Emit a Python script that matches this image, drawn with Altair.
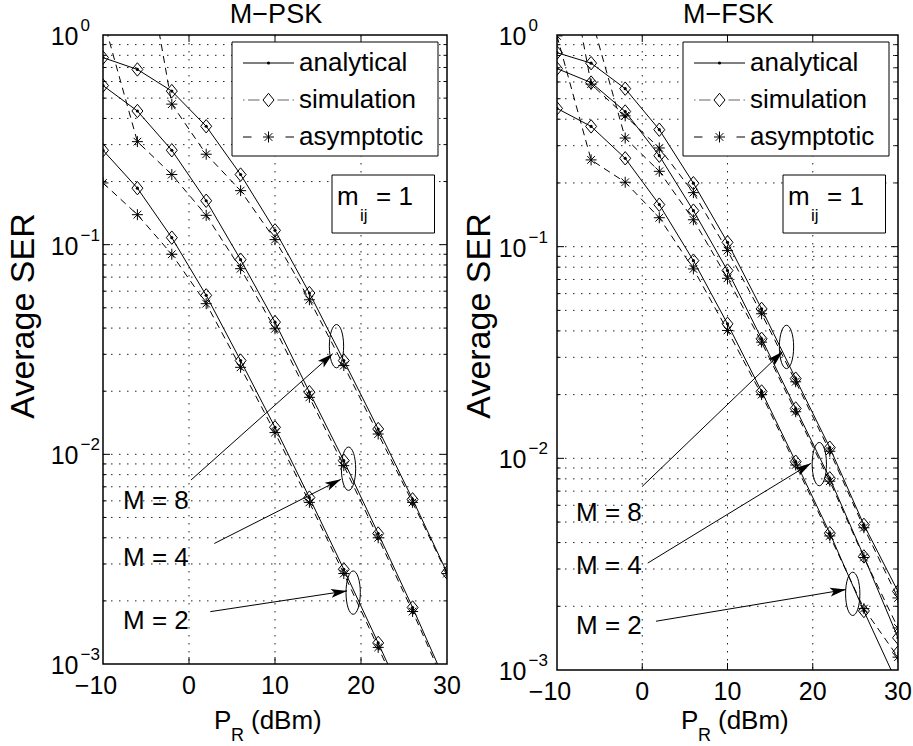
import math
import altair as alt
import pandas as pd

FONT = "Liberation Sans"

# ---------------- data ----------------
SNR_DB = [-10, -6, -2, 2, 6, 10, 14, 18, 22, 26, 30]
ORDERS = [8, 4, 2]

# M-PSK, average SER
PSK_ANA_M8 = [0.78, 0.685, 0.54, 0.367, 0.216, 0.117, 0.0588, 0.028, 0.0132, 0.0061, 0.00273]
PSK_ANA_M4 = [0.574, 0.434, 0.282, 0.162, 0.0848, 0.0427, 0.0198, 0.00933, 0.00419, 0.00186, 0.00079]
PSK_ANA_M2 = [0.282, 0.186, 0.108, 0.0573, 0.028, 0.01345, 0.00622, 0.00283, 0.00126, 0.00055, 0.00024]
PSK_SIM_M8 = [0.78, 0.685, 0.54, 0.367, 0.216, 0.117, 0.0588, 0.028, 0.0132, 0.0061, 0.00273]
PSK_SIM_M4 = [0.574, 0.434, 0.282, 0.162, 0.0848, 0.0427, 0.0198, 0.00933, 0.00419, 0.00186, 0.00079]
PSK_SIM_M2 = [0.282, 0.186, 0.108, 0.0573, 0.028, 0.01345, 0.00622, 0.00283, 0.00126, 0.00055, 0.00024]
PSK_ASY_M8 = [20.0, 4.0, 0.468, 0.27, 0.181, 0.1057, 0.0546, 0.0265, 0.0125, 0.0059, 0.0027]
PSK_ASY_M4 = [1.2, 0.31, 0.216, 0.138, 0.0768, 0.0397, 0.0187, 0.00883, 0.0040, 0.00178, 0.00076]
PSK_ASY_M2 = [0.197, 0.139, 0.090, 0.0523, 0.026, 0.0127, 0.0059, 0.0027, 0.0012, 0.00053, 0.00023]

# M-FSK, average SER
FSK_ANA_M8 = [0.825, 0.736, 0.558, 0.357, 0.1995, 0.1048, 0.0508, 0.0238, 0.01123, 0.00485, 0.00235]
FSK_ANA_M4 = [0.694, 0.596, 0.435, 0.269, 0.148, 0.0771, 0.0367, 0.0172, 0.00805, 0.00344, 0.00142]
FSK_ANA_M2 = [0.450, 0.370, 0.2615, 0.158, 0.0859, 0.0432, 0.0207, 0.00964, 0.00443, 0.0019, 0.00085]
FSK_SIM_M8 = [0.825, 0.736, 0.558, 0.357, 0.1995, 0.1048, 0.0508, 0.0238, 0.01123, 0.00485, 0.00235]
FSK_SIM_M4 = [0.694, 0.596, 0.435, 0.269, 0.148, 0.0771, 0.0367, 0.0172, 0.00805, 0.00344, 0.00142]
FSK_SIM_M2 = [0.450, 0.370, 0.2615, 0.158, 0.0859, 0.0432, 0.0207, 0.00964, 0.00443, 0.0019, 0.00121]
FSK_ASY_M8 = [4.3, 0.586, 0.415, 0.2926, 0.180, 0.0958, 0.0482, 0.0230, 0.0108, 0.0047, 0.00219]
FSK_ASY_M4 = [8.0, 1.22, 0.326, 0.227, 0.134, 0.0709, 0.0354, 0.0166, 0.0078, 0.0034, 0.00158]
FSK_ASY_M2 = [0.99, 0.257, 0.2015, 0.137, 0.0785, 0.0402, 0.0200, 0.0093, 0.0043, 0.00195, 0.00115]

# annotations: ellipse centres, arrow ends and label anchors (data coordinates)
LABELS = ["M = 8", "M = 4", "M = 2"]
PSK_ELL_X = [17.15, 18.55, 19.09]
PSK_ELL_Y = [0.0328, 0.00854, 0.00219]
PSK_ARR_X0 = [0.23, 2.94, 2.48]
PSK_ARR_Y0 = [0.00754, 0.003756, 0.001777]
PSK_ARR_X1 = [16.71, 17.67, 18.37]
PSK_ARR_Y1 = [0.0302, 0.0076, 0.002232]
PSK_LAB_X = [-7.67, -7.67, -7.67]
PSK_LAB_Y = [0.00596, 0.00321, 0.001605]

FSK_ELL_X = [16.92, 20.77, 24.69]
FSK_ELL_Y = [0.0336, 0.00939, 0.00229]
FSK_ARR_X0 = [-0.03, 0.64, 1.61]
FSK_ARR_Y0 = [0.00735, 0.0032, 0.0017]
FSK_ARR_X1 = [16.48, 19.79, 23.9]
FSK_ARR_Y1 = [0.0320, 0.00947, 0.0024]
FSK_LAB_X = [-7.77, -7.77, -7.77]
FSK_LAB_Y = [0.00551, 0.00309, 0.00161]

X_TICKS = [-10, 0, 10, 20, 30]
Y_TICKS = [1.0, 0.1, 0.01, 0.001]
Y_EXPS = ["0", "\u22121", "\u22122", "\u22123"]

X_DOMAIN = [-10, 30]
Y_DOMAIN = [1e-3, 1.0]

# ---------------- marker shapes ----------------
DIAMOND = "M0,-1L0.82,0L0,1L-0.82,0Z"
STAR = "M0,-1L0,1M-1,0L1,0M-0.7,-0.7L0.7,0.7M-0.7,0.7L0.7,-0.7"
ELLIPSE = "M0,-1A0.33,1,0,1,1,0,1A0.33,1,0,1,1,0,-1Z"
ARROWHEAD = "M0,0L-2,-0.55L-1.55,0L-2,0.55Z"

ONE = pd.DataFrame({"k": [0]})


def minus(s):
    return s.replace("-", "\u2212")


def curve_frame(series):
    rows = []
    for m, vals in zip(ORDERS, series):
        for x, v in zip(SNR_DB, vals):
            rows.append({"x": x, "v": v, "M": str(m)})
    return pd.DataFrame(rows)


def text_at(txt, x, y, size=26, align="left", baseline="alphabetic", angle=None, font=FONT):
    kw = dict(text=txt, font=font, fontSize=size, align=align,
              baseline=baseline, color="black")
    if angle is not None:
        kw["angle"] = angle
    return alt.Chart(ONE).mark_text(**kw).encode(x=alt.value(x), y=alt.value(y))


def rule_at(x1, y1, x2, y2, color="black", width=1):
    return alt.Chart(ONE).mark_rule(color=color, strokeWidth=width).encode(
        x=alt.value(x1), x2=alt.value(x2), y=alt.value(y1), y2=alt.value(y2))


def rect_at(x1, y1, x2, y2):
    return alt.Chart(ONE).mark_rect(fill="white", stroke="black", strokeWidth=1).encode(
        x=alt.value(x1), x2=alt.value(x2), y=alt.value(y1), y2=alt.value(y2))


def point_at(shape, x, y, size, filled, fill=None):
    kw = dict(shape=shape, size=size, filled=filled, color="black",
              opacity=1, strokeWidth=1)
    if fill is not None:
        kw["fill"] = fill
    return alt.Chart(ONE).mark_point(**kw).encode(x=alt.value(x), y=alt.value(y))


def panel(cfg):
    W, H = cfg["W"], cfg["H"]
    xsc = alt.Scale(domain=X_DOMAIN, nice=False, zero=False)
    ysc = alt.Scale(type="log", domain=Y_DOMAIN, nice=False)

    def X(f):
        return alt.X(f, type="quantitative", scale=xsc, axis=None)

    def Y(f):
        return alt.Y(f, type="quantitative", scale=ysc, axis=None)

    layers = []

    # dotted grid
    grid_style = dict(color="#222", strokeDash=[1.5, 6.5], strokeWidth=1)
    minor_vals = [m * 10.0 ** k for k in (-3, -2, -1) for m in range(2, 10)]
    major_vals = [0.01, 0.1]
    grid_y = pd.DataFrame({"v": minor_vals + major_vals})
    layers.append(alt.Chart(grid_y).mark_rule(**grid_style)
                  .encode(y=Y("v"), x=alt.value(0), x2=alt.value(W)))
    grid_x = pd.DataFrame({"x": [0, 10, 20]})
    layers.append(alt.Chart(grid_x).mark_rule(**grid_style)
                  .encode(x=X("x"), y=alt.value(0), y2=alt.value(H)))

    # inward tick marks
    ymaj = pd.DataFrame({"v": major_vals})
    ymin = pd.DataFrame({"v": minor_vals})
    for df, ln in ((ymaj, 7), (ymin, 3.5)):
        layers.append(alt.Chart(df).mark_rule(color="black").encode(
            y=Y("v"), x=alt.value(0), x2=alt.value(ln)))
        layers.append(alt.Chart(df).mark_rule(color="black").encode(
            y=Y("v"), x=alt.value(W - ln), x2=alt.value(W)))
    layers.append(alt.Chart(grid_x).mark_rule(color="black").encode(
        x=X("x"), y=alt.value(H - 7), y2=alt.value(H)))
    layers.append(alt.Chart(grid_x).mark_rule(color="black").encode(
        x=X("x"), y=alt.value(0), y2=alt.value(7)))

    # curves
    ana = curve_frame(cfg["ana"])
    sim = curve_frame(cfg["sim"])
    asy = curve_frame(cfg["asy"])
    layers.append(alt.Chart(asy).mark_line(color="black", strokeWidth=1, strokeDash=[7, 5], clip=True)
                  .encode(x=X("x"), y=Y("v"), detail="M:N"))
    layers.append(alt.Chart(ana).mark_line(color="black", strokeWidth=1, clip=True)
                  .encode(x=X("x"), y=Y("v"), detail="M:N"))
    layers.append(alt.Chart(asy).mark_point(shape=STAR, size=121, filled=False, color="black",
                                            opacity=1, strokeWidth=1, clip=True)
                  .encode(x=X("x"), y=Y("v")))
    layers.append(alt.Chart(sim).mark_point(shape=DIAMOND, size=180, filled=False, color="black",
                                            opacity=1, strokeWidth=1, clip=True)
                  .encode(x=X("x"), y=Y("v")))
    layers.append(alt.Chart(ana).mark_point(shape="circle", size=10, filled=True, color="black",
                                            opacity=1, clip=True)
                  .encode(x=X("x"), y=Y("v")))

    # ellipses, arrows and order labels
    ell = pd.DataFrame({"x": cfg["ell_x"], "v": cfg["ell_y"]})
    layers.append(alt.Chart(ell).mark_point(shape=ELLIPSE, size=1877, filled=False, color="black",
                                            opacity=1, strokeWidth=1)
                  .encode(x=X("x"), y=Y("v")))

    def to_px(x, v):
        return (x - X_DOMAIN[0]) / (X_DOMAIN[1] - X_DOMAIN[0]) * W, -math.log10(v) / 3.0 * H

    angs = []
    for x0, y0, x1, y1 in zip(cfg["ax0"], cfg["ay0"], cfg["ax1"], cfg["ay1"]):
        p0, p1 = to_px(x0, y0), to_px(x1, y1)
        angs.append(math.degrees(math.atan2(p1[1] - p0[1], p1[0] - p0[0])) % 360)
    arr = pd.DataFrame({"x0": cfg["ax0"], "y0": cfg["ay0"], "x1": cfg["ax1"],
                        "y1": cfg["ay1"], "ang": angs})
    layers.append(alt.Chart(arr).mark_rule(color="black", strokeWidth=1)
                  .encode(x=X("x0"), y=Y("y0"), x2="x1:Q", y2="y1:Q"))
    layers.append(alt.Chart(arr).mark_point(shape=ARROWHEAD, size=256, filled=True, color="black",
                                            opacity=1)
                  .encode(x=X("x1"), y=Y("y1"), angle=alt.Angle("ang:Q", scale=None)))
    labs = pd.DataFrame({"x": cfg["lab_x"], "v": cfg["lab_y"], "t": LABELS})
    layers.append(alt.Chart(labs).mark_text(align="left", baseline="middle", font=FONT,
                                            fontSize=26, color="black")
                  .encode(x=X("x"), y=Y("v"), text="t:N"))

    # legend
    bx1, bx2 = W - 215, W - 9
    layers.append(rect_at(bx1, 7, bx2, 121))
    lx0, lx1, mx, tx = W - 204, W - 153, W - 178.5, W - 148
    rows = [28, 65, 102]
    layers.append(rule_at(lx0, rows[0], lx1, rows[0]))
    layers.append(point_at("circle", mx, rows[0], 10, True))
    layers.append(rule_at(lx0, rows[1], lx0 + 1.5, rows[1], color="#666"))
    layers.append(rule_at(lx0 + 5, rows[1], mx - 9, rows[1], color="#666"))
    layers.append(rule_at(mx + 9, rows[1], lx1 - 5, rows[1], color="#666"))
    layers.append(rule_at(lx1 - 1.5, rows[1], lx1, rows[1], color="#666"))
    layers.append(point_at(DIAMOND, mx, rows[1], 180, False))
    layers.append(rule_at(lx0, rows[2], lx0 + 8.5, rows[2]))
    layers.append(rule_at(lx1 - 8.5, rows[2], lx1, rows[2]))
    layers.append(point_at(STAR, mx, rows[2], 121, False))
    for r, name in zip(rows, ["analytical", "simulation", "asymptotic"]):
        layers.append(text_at(name, tx, r, size=26, baseline="middle"))

    # fading parameter box
    layers.append(rect_at(W - 115, 140, W - 12.5, 198))
    layers.append(text_at("m", W - 110, 170, size=26))
    layers.append(text_at("ij", W - 87, 186, size=17))
    layers.append(text_at("= 1", W - 71, 170, size=26))

    # tick labels
    xt = pd.DataFrame({"x": X_TICKS, "t": [minus(str(t)) for t in X_TICKS]})
    layers.append(alt.Chart(xt).transform_filter("datum.x < 0")
                  .mark_text(baseline="middle", font=FONT, fontSize=25, color="black", dx=-7)
                  .encode(x=X("x"), y=alt.value(H + 22), text="t:N"))
    layers.append(alt.Chart(xt).transform_filter("datum.x >= 0")
                  .mark_text(baseline="middle", font=FONT, fontSize=25, color="black")
                  .encode(x=X("x"), y=alt.value(H + 22), text="t:N"))
    yt = pd.DataFrame({"v": Y_TICKS, "e": Y_EXPS})
    layers.append(alt.Chart(yt).mark_text(text="10", align="right", baseline="alphabetic",
                                          font=FONT, fontSize=25, color="black", dy=10)
                  .encode(x=alt.value(cfg["ten_x"]), y=Y("v")))
    layers.append(alt.Chart(yt).mark_text(align="left", baseline="alphabetic",
                                          font=FONT, fontSize=17, color="black", dy=-4)
                  .encode(x=alt.value(cfg["ten_x"] + 2), y=Y("v"), text="e:N"))

    # titles
    layers.append(text_at(cfg["title"], W / 2 + 1, -20, size=27, align="center", baseline="middle"))
    layers.append(text_at("Average SER", cfg["ytitle_x"], cfg["ytitle_y"], size=34,
                          align="center", baseline="middle", angle=270))
    px0 = cfg["p_x"]
    layers.append(text_at("P", px0, 694, size=26))
    layers.append(text_at("R", px0 + 17, 706, size=18))
    layers.append(text_at("(dBm)", px0 + 37, 694, size=26))

    if cfg.get("anchor"):
        layers.append(alt.Chart(ONE).mark_rect(opacity=0).encode(
            x=alt.value(-102), x2=alt.value(-101), y=alt.value(-34), y2=alt.value(-33)))

    return alt.layer(*layers).properties(width=W, height=H)


psk_cfg = dict(
    W=344, H=629, title="M\u2212PSK",
    ana=[PSK_ANA_M8, PSK_ANA_M4, PSK_ANA_M2],
    sim=[PSK_SIM_M8, PSK_SIM_M4, PSK_SIM_M2],
    asy=[PSK_ASY_M8, PSK_ASY_M4, PSK_ASY_M2],
    ell_x=PSK_ELL_X, ell_y=PSK_ELL_Y,
    ax0=PSK_ARR_X0, ay0=PSK_ARR_Y0, ax1=PSK_ARR_X1, ay1=PSK_ARR_Y1,
    lab_x=PSK_LAB_X, lab_y=PSK_LAB_Y,
    ten_x=-24.5, ytitle_x=-79, ytitle_y=281, p_x=111, anchor=True,
)
fsk_cfg = dict(
    W=341, H=635, title="M\u2212FSK",
    ana=[FSK_ANA_M8, FSK_ANA_M4, FSK_ANA_M2],
    sim=[FSK_SIM_M8, FSK_SIM_M4, FSK_SIM_M2],
    asy=[FSK_ASY_M8, FSK_ASY_M4, FSK_ASY_M2],
    ell_x=FSK_ELL_X, ell_y=FSK_ELL_Y,
    ax0=FSK_ARR_X0, ay0=FSK_ARR_Y0, ax1=FSK_ARR_X1, ay1=FSK_ARR_Y1,
    lab_x=FSK_LAB_X, lab_y=FSK_LAB_Y,
    ten_x=-30.5, ytitle_x=-77, ytitle_y=281, p_x=124, anchor=False,
)

chart = (
    alt.hconcat(panel(psk_cfg), panel(fsk_cfg), spacing=110, bounds="flush")
    .properties(padding={"left": 0, "top": 0, "right": 0, "bottom": 0}, background="white")
    .configure_view(stroke="black", strokeWidth=1.5)
)

chart.save("out.html", embed_options={"renderer": "svg", "actions": False})
